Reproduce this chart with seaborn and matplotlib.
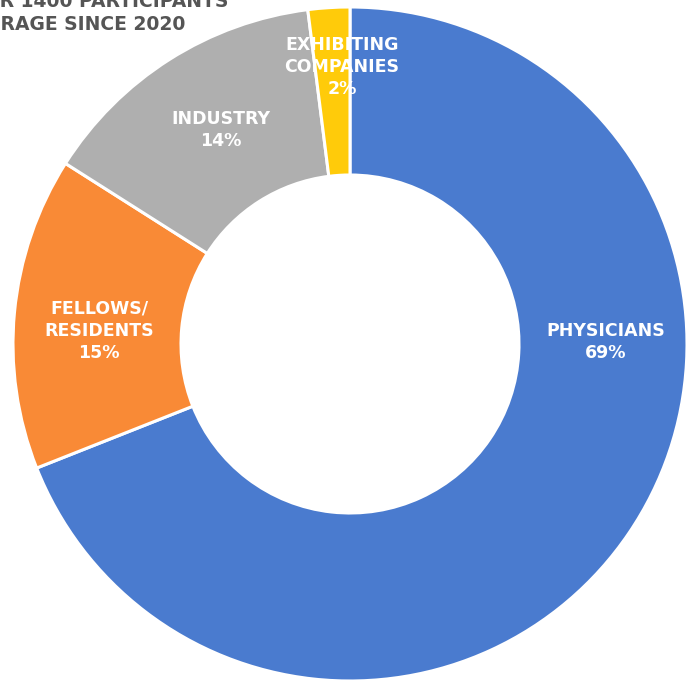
import matplotlib
matplotlib.use("Agg")
import matplotlib.pyplot as plt
import seaborn as sns

# ---- data ----
categories = ["PHYSICIANS", "FELLOWS/\nRESIDENTS", "INDUSTRY", "EXHIBITING\nCOMPANIES"]
shares = [69, 15, 14, 2]
colors = ["#4a7bcf", "#f98a36", "#afafaf", "#ffcb0a"]
title_lines = ["OVER 1400 PARTICIPANTS", "AVERAGE SINCE 2020"]
hidden_prefixes = ["OVE", "AVE"]   # parts of the title lying beyond the left edge in the reference

# ---- layout (pixel coordinates, y from top) ----
W, H = 690, 681
center_px = (350, 344)
radius_px = 337
ring_px = 168
label_pos_px = [(606, 342), (99, 331), (221, 130), (342, 67)]
title_baselines_px = [7, 30]

sns.set_theme(style="white")
plt.rcParams['font.family'] = ['DejaVu Sans']

fig = plt.figure(figsize=(W / 100, H / 100), dpi=100)
ax = fig.add_axes([0, 0, 1, 1])

ax.pie(shares, colors=colors, startangle=90, counterclock=False,
       center=(center_px[0], H - center_px[1]), radius=radius_px,
       wedgeprops=dict(width=ring_px, edgecolor="white", linewidth=2.2))

for cat, val, (x, y) in zip(categories, shares, label_pos_px):
    ax.text(x, H - y, f"{cat}\n{val}%", ha="center", va="center",
            color="white", fontsize=12.5, fontweight="bold", linespacing=1.3)

ax.set_xlim(0, W)
ax.set_ylim(0, H)
ax.set_aspect("equal")
ax.axis("off")

# measure the hidden part of each title line so the visible part starts at the left edge
title_kw = dict(color="#555555", fontsize=13.5, fontweight="bold", va="baseline", ha="left")
for line, prefix, base in zip(title_lines, hidden_prefixes, title_baselines_px):
    probe = ax.text(0, 0, prefix, **title_kw)
    fig.canvas.draw()
    w_hidden = probe.get_window_extent().width
    probe.remove()
    ax.text(-w_hidden, H - base, line, **title_kw)

fig.savefig("out.png", dpi=100)
